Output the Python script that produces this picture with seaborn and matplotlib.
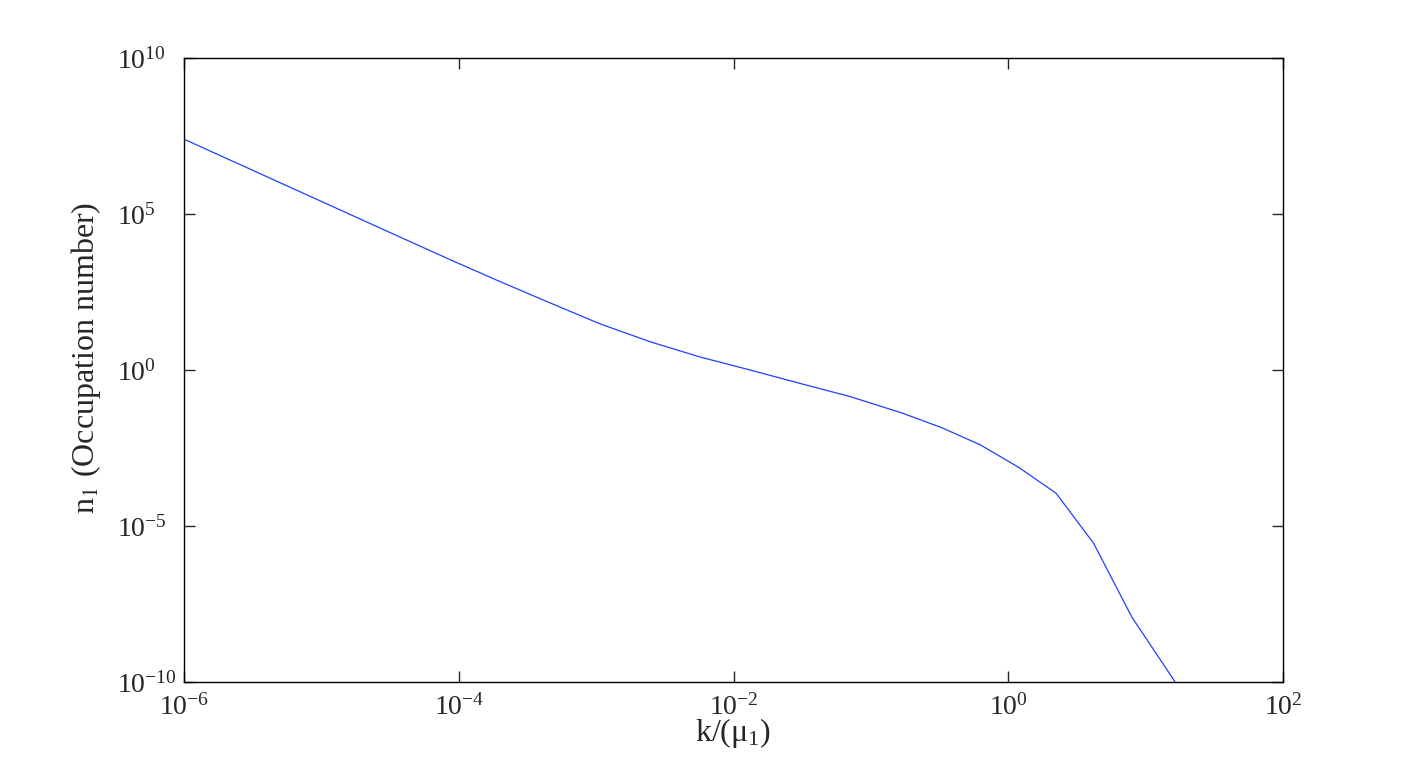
import numpy as np
import matplotlib
matplotlib.use("Agg")
import matplotlib.pyplot as plt
import seaborn as sns
from matplotlib.ticker import NullLocator

# values
k_over_mu = [1e-6, 3.76e-5, 8.7e-5, 2.0e-4, 4.65e-4, 1.07e-3, 2.48e-3, 5.73e-3,
             1.32e-2, 3.06e-2, 7.08e-2, 0.168, 0.329, 0.625, 1.19, 2.23,
             4.18, 7.94, 16.4]
n1 = [2.5e7, 1.8e4, 3.4e3, 6.8e2, 1.4e2, 30.0, 8.0, 2.6,
      1.0, 0.37, 0.14, 0.042, 0.0141, 4.0e-3, 7.6e-4, 1.12e-4,
      2.8e-6, 1.2e-8, 1.0e-10]

x_ticks = [1e-6, 1e-4, 1e-2, 1e0, 1e2]
y_ticks = [1e-10, 1e-5, 1e0, 1e5, 1e10]

sns.set_style("ticks")
plt.rcParams["font.family"] = ["Liberation Serif", "DejaVu Serif"]
plt.rcParams["mathtext.fontset"] = "stix"

fig = plt.figure(figsize=(14.17, 7.68), dpi=100)
ax = fig.add_axes([184 / 1417, 1 - 682 / 768, (1283 - 184) / 1417, (682 - 58) / 768])
ax.set(xscale="log", yscale="log")

sns.lineplot(x=k_over_mu, y=n1, ax=ax, color="#2040ff", linewidth=0.9)

ax.set_xlim(1e-6, 1e2)
ax.set_ylim(1e-10, 1e10)
ax.set_xticks(x_ticks)
ax.set_yticks(y_ticks)
ax.xaxis.set_minor_locator(NullLocator())
ax.yaxis.set_minor_locator(NullLocator())
ax.tick_params(direction="in", top=True, right=True, length=8, width=1,
               labelsize=20)
ax.tick_params(axis="x", pad=9)
ax.tick_params(axis="y", pad=48)
for lbl in ax.get_yticklabels():
    lbl.set_horizontalalignment("left")
for s in ax.spines.values():
    s.set_linewidth(1.0)
    s.set_color("black")

ax.set_xlabel(r"k/($\mathregular{\mu_1}$)", fontsize=23)
ax.xaxis.set_label_coords(0.5, -0.055)
ax.set_ylabel(r"n$_1$ (Occupation number)", fontsize=23)
ax.yaxis.set_label_coords(-0.074, 0.52)

fig.savefig("out.png", dpi=100, facecolor="white")
